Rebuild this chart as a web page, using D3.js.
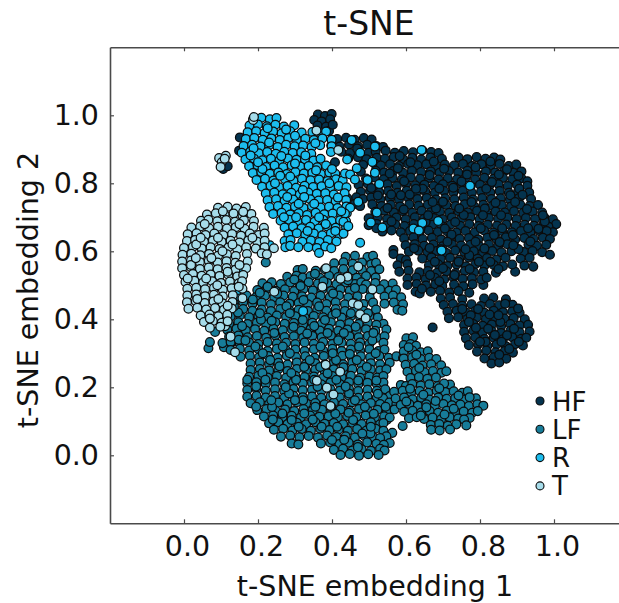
<!DOCTYPE html>
<html>
<head>
<meta charset="utf-8">
<script src="https://cdn.jsdelivr.net/npm/d3@7"></script>
<style>
  html, body { margin: 0; padding: 0; background: #fff; overflow: hidden; }
  text { font-family: "DejaVu Sans", sans-serif; fill: #111; }
</style>
</head>
<body>
<script>
const classNames = ["HF", "LF", "R", "T"];
const classColors = ["#04334e", "#177c99", "#1cbdee", "#a6dcea"];
const xTicks = [0, 0.2, 0.4, 0.6, 0.8, 1];
const yTicks = [0, 0.2, 0.4, 0.6, 0.8, 1];

// values, embedding coordinates
const hfPoints = [
[.362,1.002],[.381,.998],[.399,1.004],[.352,.986],[.372,.982],[.395,.988],[.361,.970],[.384,.966],[.392,.954],[.402,.972],
[.151,.935],[.149,.896],[.408,.862],[.672,.376],[.566,.604],[.566,.592],[.809,.501],[.895,.540],[.106,.842],[.118,.850],
[.414,.930],[.438,.934],[.461,.928],[.486,.933],[.507,.929],
[.398,.912],[.421,.908],[.446,.914],[.470,.909],[.495,.913],[.519,.910],[.538,.907],
[.425,.893],[.449,.889],[.474,.895],[.499,.890],[.518,.893],[.545,.896],[.570,.890],[.594,.895],[.619,.891],[.644,.897],[.668,.892],[.688,.889],
[.444,.873],[.470,.877],[.493,.871],[.521,.875],[.543,.872],[.567,.877],[.592,.871],[.617,.875],[.641,.870],[.666,.876],[.697,.872],[.742,.876],[.766,.871],[.791,.877],[.815,.872],[.838,.876],[.855,.870],
[.484,.854],[.516,.857],[.532,.852],[.557,.856],[.581,.851],[.606,.857],[.631,.853],[.655,.856],[.680,.851],[.705,.855],[.730,.852],[.754,.857],[.779,.851],[.804,.856],[.829,.852],[.853,.857],[.878,.851],[.898,.855],
[.478,.834],[.518,.837],[.541,.832],[.566,.836],[.592,.831],[.616,.837],[.641,.833],[.667,.835],[.691,.831],[.716,.836],[.741,.832],[.766,.837],[.790,.831],[.816,.835],[.841,.832],[.866,.836],[.890,.831],[.912,.835],
[.492,.814],[.515,.817],[.540,.812],[.564,.816],[.589,.811],[.613,.817],[.638,.813],[.663,.816],[.688,.811],[.713,.815],[.738,.812],[.762,.817],[.787,.811],[.812,.816],[.837,.813],[.862,.816],[.887,.811],[.912,.815],[.928,.806],
[.472,.795],[.497,.798],[.526,.793],[.550,.797],[.575,.792],[.600,.798],[.625,.794],[.650,.796],[.675,.792],[.700,.797],[.725,.793],[.750,.798],[.775,.792],[.800,.796],[.825,.793],[.850,.797],[.875,.792],[.900,.796],[.928,.793],
[.478,.775],[.503,.778],[.528,.773],[.552,.777],[.577,.772],[.602,.778],[.628,.774],[.652,.776],[.678,.772],[.703,.777],[.728,.773],[.753,.778],[.778,.772],[.803,.776],[.828,.773],[.853,.777],[.878,.772],[.903,.776],[.933,.773],
[.442,.756],[.466,.759],[.484,.754],[.506,.758],[.531,.753],[.556,.757],[.581,.752],[.606,.758],[.631,.754],[.656,.757],[.681,.752],[.706,.756],[.731,.753],[.756,.758],[.781,.752],[.806,.757],[.831,.754],[.856,.756],[.881,.752],[.906,.757],[.938,.754],
[.441,.736],[.462,.739],[.476,.733],[.509,.738],[.534,.733],[.559,.737],[.584,.732],[.609,.738],[.634,.734],[.659,.737],[.684,.732],[.709,.736],[.734,.733],[.759,.738],[.784,.732],[.809,.737],[.834,.734],[.859,.736],[.884,.732],[.909,.737],[.934,.733],[.957,.736],
[.517,.716],[.542,.719],[.567,.714],[.592,.718],[.617,.713],[.642,.719],[.667,.715],[.692,.717],[.717,.713],[.742,.718],[.767,.714],[.792,.719],[.817,.713],[.842,.717],[.867,.714],[.892,.718],[.917,.713],[.942,.717],[.968,.714],
[.499,.697],[.524,.700],[.549,.695],[.574,.699],[.599,.694],[.624,.700],[.649,.696],[.674,.698],[.699,.694],[.724,.699],[.749,.695],[.774,.700],[.799,.694],[.824,.698],[.849,.695],[.874,.699],[.899,.694],[.924,.698],[.949,.695],[.974,.699],[.997,.694],
[.499,.677],[.521,.680],[.546,.675],[.571,.679],[.596,.674],[.621,.680],[.646,.676],[.671,.678],[.696,.674],[.721,.679],[.746,.675],[.771,.680],[.796,.674],[.821,.678],[.846,.675],[.871,.679],[.896,.674],[.921,.678],[.946,.675],[.971,.679],[1.006,.680],[.985,.672],
[.536,.658],[.561,.661],[.586,.656],[.611,.660],[.636,.655],[.661,.661],[.686,.657],[.711,.659],[.736,.655],[.761,.660],[.786,.656],[.811,.661],[.836,.655],[.861,.659],[.886,.656],[.911,.660],[.936,.655],[.961,.659],[.997,.656],[.980,.660],
[.595,.638],[.620,.641],[.645,.636],[.670,.640],[.695,.635],[.720,.641],[.745,.637],[.770,.639],[.795,.635],[.820,.640],[.845,.636],[.870,.641],[.895,.635],[.920,.639],[.945,.636],[.970,.640],[.989,.636],
[.599,.618],[.624,.621],[.649,.616],[.674,.620],[.699,.615],[.724,.621],[.749,.617],[.774,.619],[.799,.615],[.824,.620],[.849,.616],[.874,.621],[.896,.612],[.931,.620],[.954,.616],[.979,.619],
[.608,.599],[.633,.602],[.658,.597],[.683,.601],[.708,.596],[.733,.602],[.758,.598],[.783,.600],[.808,.596],[.833,.601],[.858,.597],[.885,.600],[.918,.598],[.942,.601],[.968,.597],[.989,.590],
[.586,.579],[.600,.574],[.644,.579],[.669,.582],[.694,.577],[.719,.581],[.744,.576],[.769,.582],[.794,.578],[.819,.580],[.844,.576],[.869,.581],[.910,.578],[.934,.581],
[.577,.559],[.604,.562],[.662,.559],[.687,.562],[.712,.557],[.737,.561],[.762,.556],[.787,.562],[.812,.558],[.837,.560],[.862,.556],[.887,.561],[.920,.558],[.944,.555],
[.582,.540],[.607,.543],[.636,.538],[.659,.542],[.684,.537],[.709,.541],[.734,.536],[.759,.542],[.784,.538],[.809,.540],[.843,.537],
[.604,.520],[.628,.523],[.653,.518],[.678,.522],[.703,.517],[.728,.523],[.753,.519],[.778,.521],[.803,.517],[.818,.522],
[.604,.501],[.629,.504],[.654,.499],[.679,.503],[.698,.498],[.730,.502],[.755,.497],[.780,.503],
[.626,.481],[.637,.476],[.667,.481],[.692,.484],[.717,.479],[.742,.483],[.771,.478],
[.694,.461],[.719,.464],[.752,.459],[.811,.461],[.836,.464],[.870,.459],
[.702,.442],[.727,.445],[.752,.440],[.777,.444],[.802,.439],[.827,.445],[.852,.441],[.888,.443],[.868,.446],
[.712,.422],[.737,.425],[.762,.420],[.787,.424],[.812,.419],[.837,.425],[.862,.421],[.887,.423],[.907,.419],
[.716,.403],[.741,.406],[.766,.401],[.791,.405],[.816,.400],[.841,.406],[.866,.402],[.891,.404],[.921,.400],
[.757,.383],[.782,.386],[.807,.381],[.832,.385],[.857,.380],[.882,.386],[.907,.382],[.930,.384],
[.757,.363],[.782,.366],[.807,.361],[.832,.365],[.857,.360],[.882,.366],[.907,.362],[.934,.364],
[.762,.344],[.787,.347],[.812,.342],[.837,.346],[.862,.341],[.887,.347],[.912,.343],[.925,.346],
[.770,.324],[.795,.327],[.820,.322],[.845,.326],[.870,.321],[.895,.327],[.916,.323],
[.792,.305],[.817,.308],[.842,.303],[.867,.307],[.889,.302],
[.812,.285],[.837,.288],[.871,.284],[.831,.270],[.852,.273],
// overlay, breaks up the rows
[.612,.862],[.703,.843],[.556,.829],[.788,.847],[.873,.841],[.645,.784],[.728,.787],[.524,.764],[.817,.784],[.906,.784],[.594,.723],[.681,.726],[.756,.707],[.842,.743],[.927,.724],[.561,.688],[.639,.666],[.723,.649],[.802,.668],[.889,.648],[.958,.666],[.622,.609],[.695,.606],[.771,.588],[.853,.627],[.936,.629],[.678,.569],[.731,.530],[.797,.569],[.643,.490],[.752,.430],[.826,.414],[.903,.432],[.789,.375],[.873,.353],[.815,.334],[.879,.313],[.468,.902],[.583,.880],[.675,.864],[.828,.864],[.506,.786],[.904,.822],[.975,.688],[.610,.767],[.700,.746],[.777,.745],[.857,.706],[.550,.727],[.520,.668],
[.578,.844],[.664,.824],[.750,.805],[.832,.804],[.915,.766],[.586,.765],[.672,.745],[.744,.726],[.813,.726],[.882,.765],[.653,.686],[.705,.667],[.788,.628],[.838,.648],[.904,.606],[.664,.610],[.742,.569],[.828,.569],[.690,.512],[.775,.412],[.855,.392],[.840,.354],
[.595,.806],[.627,.784],[.690,.785],[.765,.826],[.851,.826],[.895,.745],[.560,.767],[.660,.706],[.733,.686],[.808,.706],[.860,.668],[.930,.668],[.712,.628],[.761,.606],[.812,.608],[.890,.618],[.700,.550],[.772,.548],[.850,.548],[.665,.530],[.795,.430],[.850,.412],[.770,.392],[.892,.372],[.822,.372],[.800,.334],[.858,.334],[.905,.334],[.852,.296],[.970,.706]
];

const lfPoints = [
[.221,.567],[.066,.315],[.084,.363],[.070,.333],[.108,.318],[.130,.333],[.591,.086],[.563,.066],[.548,.104],
[.437,.584],[.462,.587],[.496,.583],[.511,.587],
[.406,.565],[.431,.568],[.456,.563],[.481,.567],[.506,.562],[.519,.566],
[.307,.545],[.321,.548],[.356,.543],[.381,.547],[.406,.542],[.431,.548],[.456,.544],[.481,.546],[.506,.542],[.528,.547],
[.279,.525],[.304,.528],[.321,.523],[.342,.527],[.367,.522],[.392,.528],[.417,.524],[.442,.526],[.467,.522],[.492,.527],[.518,.523],
[.212,.506],[.237,.509],[.262,.504],[.287,.508],[.312,.503],[.337,.509],[.362,.505],[.387,.507],[.412,.503],[.437,.508],[.462,.504],[.479,.509],[.492,.502],[.517,.507],[.541,.503],[.564,.505],
[.198,.486],[.223,.489],[.248,.484],[.273,.488],[.298,.483],[.323,.489],[.348,.485],[.373,.487],[.398,.483],[.423,.488],[.448,.484],[.483,.489],[.505,.483],[.530,.488],[.555,.484],[.573,.487],
[.144,.467],[.169,.470],[.194,.465],[.219,.469],[.244,.464],[.269,.470],[.294,.466],[.319,.468],[.344,.464],[.369,.469],[.394,.465],[.419,.470],[.444,.464],[.469,.468],[.502,.465],[.542,.467],[.565,.470],[.587,.465],
[.135,.447],[.160,.450],[.185,.445],[.210,.449],[.235,.444],[.260,.450],[.285,.446],[.310,.448],[.335,.444],[.360,.449],[.385,.445],[.410,.450],[.435,.444],[.460,.448],[.485,.445],[.511,.449],[.542,.446],[.567,.449],[.592,.444],
[.135,.427],[.160,.430],[.185,.425],[.210,.429],[.235,.424],[.260,.430],[.285,.426],[.310,.428],[.335,.424],[.360,.429],[.385,.425],[.410,.430],[.435,.424],[.460,.428],[.485,.425],[.519,.429],[.577,.428],[.590,.425],
[.126,.408],[.151,.411],[.176,.406],[.201,.410],[.226,.405],[.251,.411],[.276,.407],[.301,.409],[.326,.405],[.351,.410],[.376,.406],[.401,.411],[.426,.405],[.451,.409],[.476,.406],[.501,.410],[.524,.405],
[.122,.388],[.147,.391],[.172,.386],[.197,.390],[.222,.385],[.247,.391],[.272,.387],[.297,.389],[.322,.385],[.347,.390],[.372,.386],[.397,.391],[.422,.385],[.447,.389],[.472,.386],[.497,.390],[.539,.387],[.520,.384],
[.117,.369],[.142,.372],[.167,.367],[.192,.371],[.217,.366],[.242,.372],[.267,.368],[.292,.370],[.317,.366],[.342,.371],[.367,.367],[.392,.372],[.417,.366],[.442,.370],[.467,.367],[.492,.371],[.517,.366],[.547,.370],
[.122,.349],[.147,.352],[.172,.347],[.197,.351],[.222,.346],[.247,.352],[.272,.348],[.297,.350],[.322,.346],[.347,.351],[.372,.347],[.397,.352],[.422,.346],[.447,.350],[.472,.347],[.497,.351],[.522,.346],[.542,.350],
[.104,.330],[.126,.333],[.151,.328],[.176,.332],[.201,.327],[.226,.333],[.251,.329],[.276,.331],[.301,.327],[.326,.332],[.351,.328],[.376,.333],[.401,.327],[.426,.331],[.451,.328],[.476,.332],[.501,.327],[.539,.331],
[.126,.310],[.151,.313],[.176,.308],[.201,.312],[.226,.307],[.251,.313],[.276,.309],[.301,.311],[.326,.307],[.351,.312],[.376,.308],[.401,.313],[.426,.307],[.451,.311],[.476,.308],[.501,.312],[.526,.307],[.542,.311],
[.153,.290],[.178,.293],[.203,.288],[.228,.292],[.253,.287],[.278,.293],[.303,.289],[.328,.291],[.353,.287],[.378,.292],[.403,.288],[.428,.293],[.453,.287],[.478,.291],[.503,.288],[.528,.292],[.553,.287],[.574,.291],[.592,.287],
[.180,.270],[.205,.273],[.230,.268],[.255,.272],[.280,.267],[.305,.273],[.330,.269],[.355,.271],[.380,.267],[.405,.272],[.430,.268],[.455,.273],[.480,.267],[.505,.271],[.530,.268],[.556,.272],
[.180,.251],[.205,.254],[.230,.249],[.255,.253],[.280,.248],[.305,.254],[.330,.250],[.355,.252],[.380,.248],[.405,.253],[.430,.249],[.455,.254],[.480,.248],[.505,.252],[.530,.249],[.547,.253],
[.176,.231],[.201,.234],[.226,.229],[.251,.233],[.276,.228],[.301,.234],[.326,.230],[.351,.232],[.376,.228],[.401,.233],[.426,.229],[.451,.234],[.476,.228],[.501,.232],[.522,.229],[.539,.233],
[.171,.212],[.196,.215],[.221,.210],[.246,.214],[.271,.209],[.296,.215],[.321,.211],[.346,.213],[.371,.209],[.396,.214],[.421,.210],[.446,.215],[.471,.209],[.496,.213],[.521,.210],[.539,.214],
[.171,.192],[.196,.195],[.221,.190],[.246,.194],[.271,.189],[.296,.195],[.321,.191],[.346,.193],[.371,.189],[.396,.194],[.421,.190],[.446,.195],[.471,.189],[.496,.193],[.521,.190],[.544,.194],
[.171,.172],[.196,.175],[.221,.170],[.246,.174],[.271,.169],[.296,.175],[.321,.171],[.346,.173],[.371,.169],[.396,.174],[.421,.170],[.446,.175],[.471,.169],[.496,.173],[.521,.170],[.556,.174],[.538,.168],
[.180,.153],[.205,.156],[.230,.151],[.255,.155],[.280,.150],[.305,.156],[.330,.152],[.355,.154],[.380,.150],[.405,.155],[.430,.151],[.455,.156],[.480,.150],[.505,.154],[.530,.151],[.555,.155],[.574,.151],
[.198,.133],[.223,.136],[.248,.131],[.273,.135],[.298,.130],[.323,.136],[.348,.132],[.373,.134],[.398,.130],[.423,.135],[.448,.131],[.473,.136],[.498,.130],[.523,.134],[.548,.131],[.569,.135],
[.216,.114],[.241,.117],[.266,.112],[.291,.116],[.316,.111],[.341,.117],[.366,.113],[.391,.115],[.416,.111],[.441,.116],[.466,.112],[.491,.117],[.516,.111],[.541,.115],[.556,.111],
[.230,.094],[.255,.097],[.280,.092],[.305,.096],[.330,.091],[.355,.097],[.380,.093],[.405,.095],[.430,.091],[.455,.096],[.480,.092],[.505,.097],[.530,.091],[.539,.095],
[.243,.075],[.268,.078],[.293,.073],[.318,.077],[.343,.072],[.368,.078],[.393,.074],[.418,.076],[.443,.072],[.468,.077],[.493,.073],[.518,.078],[.539,.072],
[.262,.055],[.287,.058],[.312,.053],[.337,.057],[.362,.052],[.387,.058],[.412,.054],[.437,.056],[.462,.052],[.487,.057],[.512,.053],[.547,.056],[.530,.051],
[.291,.035],[.309,.032],[.370,.035],[.395,.038],[.420,.033],[.445,.037],[.470,.032],[.495,.038],[.520,.034],[.556,.036],[.540,.031],
[.405,.016],[.430,.019],[.455,.014],[.480,.018],[.505,.013],[.530,.019],[.542,.014],
[.423,.001],[.448,.004],[.473,-.001],[.498,.003],[.526,.001],
[.601,.344],[.619,.347],[.594,.324],[.612,.327],[.627,.322],
[.594,.305],[.617,.308],[.640,.303],[.659,.306],
[.594,.285],[.617,.288],[.640,.283],[.663,.287],[.682,.283],
[.599,.266],[.622,.269],[.645,.264],[.668,.268],[.695,.265],
[.604,.246],[.627,.249],[.650,.244],[.673,.248],[.696,.243],[.709,.247],
[.612,.227],[.635,.230],[.658,.225],[.681,.229],
[.586,.207],[.600,.204],[.617,.210],[.640,.205],[.663,.209],[.686,.204],[.719,.208],[.703,.211],
[.568,.187],[.591,.190],[.614,.185],[.637,.189],[.660,.184],[.683,.190],[.706,.186],[.729,.188],[.752,.184],[.767,.188],
[.572,.167],[.595,.170],[.618,.165],[.641,.169],[.664,.164],[.687,.170],[.710,.166],[.733,.168],[.756,.164],[.789,.168],[.772,.171],
[.586,.148],[.609,.151],[.632,.146],[.655,.150],[.678,.145],[.701,.151],[.724,.147],[.747,.149],[.770,.145],[.793,.150],[.809,.146],
[.595,.128],[.618,.131],[.641,.126],[.664,.130],[.687,.125],[.710,.131],[.733,.127],[.756,.129],[.779,.125],[.794,.130],
[.608,.109],[.629,.112],[.649,.107],[.672,.111],[.695,.106],[.718,.112],[.741,.108],[.772,.110],[.757,.105],
[.667,.089],[.690,.092],[.713,.087],[.736,.091],[.763,.088],[.668,.075],[.691,.073],[.719,.076],
// overlay, breaks up the rows
[.226,.496],[.315,.498],[.403,.476],[.186,.458],[.277,.438],[.365,.438],[.451,.418],[.208,.399],[.296,.378],[.381,.398],[.464,.378],[.157,.380],[.244,.360],[.333,.358],[.417,.338],[.509,.338],[.193,.320],[.286,.300],[.369,.320],[.448,.298],[.233,.280],[.325,.260],[.411,.280],[.494,.260],[.212,.242],[.303,.222],[.388,.241],[.471,.220],[.195,.202],[.284,.182],[.361,.202],[.446,.182],[.524,.181],[.238,.142],[.322,.162],[.409,.122],[.489,.143],[.291,.104],[.372,.084],[.457,.104],[.433,.046],[.504,.064],[.636,.257],[.611,.196],[.690,.197],[.655,.141],[.742,.176],[.704,.120],
[.354,.534],[.443,.515],[.252,.475],[.323,.457],[.411,.418],[.146,.420],[.237,.396],[.321,.398],[.497,.418],[.388,.360],[.473,.320],[.267,.320],[.148,.340],[.340,.280],[.431,.259],[.258,.262],[.171,.222],[.352,.222],[.275,.200],[.437,.202],[.236,.162],[.325,.123],[.398,.143],[.513,.122],[.266,.123],[.348,.105],[.414,.084],[.482,.064],[.601,.158],[.647,.178],[.729,.137],[.628,.296],
[.298,.517],[.377,.512],[.462,.492],[.205,.478],[.135,.438],[.205,.418],[.286,.418],[.352,.380],[.432,.360],[.512,.360],[.166,.338],[.213,.300],[.402,.300],[.518,.300],[.467,.280],[.368,.260],[.290,.242],[.220,.222],[.412,.222],[.520,.220],[.300,.162],[.462,.162],[.195,.143],[.545,.143],[.355,.143],[.240,.105],[.445,.125],[.310,.084],[.505,.084],[.400,.045],[.470,.024],[.607,.318],[.680,.160],[.640,.117]
];

const rPoints = [
[.187,.990],[.209,.993],[.232,.988],[.250,.992],
[.177,.970],[.200,.973],[.224,.968],[.247,.972],[.270,.967],[.298,.971],
[.172,.950],[.195,.953],[.218,.948],[.241,.952],[.264,.947],[.287,.953],[.318,.949],[.347,.951],[.370,.947],[.384,.952],
[.167,.930],[.190,.933],[.213,.928],[.236,.932],[.259,.927],[.282,.933],[.305,.929],[.328,.931],[.351,.927],[.374,.932],[.399,.928],
[.161,.910],[.184,.913],[.207,.908],[.230,.912],[.253,.907],[.276,.913],[.299,.909],[.322,.911],[.345,.907],[.368,.912],[.399,.909],
[.156,.890],[.179,.893],[.202,.888],[.225,.892],[.248,.887],[.271,.893],[.294,.889],[.317,.891],[.344,.887],[.397,.892],
[.166,.870],[.189,.873],[.212,.868],[.235,.872],[.258,.867],[.281,.873],[.304,.869],[.327,.871],[.350,.867],[.369,.872],
[.176,.850],[.199,.853],[.222,.848],[.245,.852],[.268,.847],[.291,.853],[.314,.849],[.337,.851],[.360,.847],[.384,.852],
[.186,.830],[.209,.833],[.232,.828],[.255,.832],[.278,.827],[.301,.833],[.324,.829],[.347,.831],[.370,.827],[.393,.832],[.409,.828],
[.196,.810],[.219,.813],[.242,.808],[.273,.812],[.296,.807],[.319,.813],[.342,.809],[.365,.811],[.388,.807],[.411,.812],[.429,.808],
[.211,.790],[.234,.793],[.257,.788],[.280,.792],[.303,.787],[.326,.793],[.349,.789],[.372,.791],[.395,.787],[.418,.792],[.439,.788],
[.221,.770],[.244,.773],[.267,.768],[.290,.772],[.313,.767],[.336,.773],[.359,.769],[.382,.771],[.405,.767],[.434,.771],
[.226,.750],[.249,.753],[.272,.748],[.295,.752],[.318,.747],[.341,.753],[.364,.749],[.387,.751],[.410,.747],[.438,.751],
[.231,.730],[.254,.733],[.277,.728],[.300,.732],[.323,.727],[.346,.733],[.369,.729],[.392,.731],[.415,.727],[.439,.732],
[.241,.710],[.264,.713],[.287,.708],[.310,.712],[.333,.707],[.356,.713],[.379,.709],[.402,.711],[.425,.707],[.440,.712],
[.261,.690],[.284,.693],[.307,.688],[.330,.692],[.353,.687],[.376,.693],[.399,.689],[.422,.691],[.438,.688],
[.272,.670],[.295,.673],[.318,.668],[.341,.672],[.364,.667],[.387,.673],[.410,.669],[.438,.671],
[.282,.650],[.305,.653],[.328,.648],[.351,.652],[.374,.647],[.397,.653],[.420,.649],[.431,.652],
[.272,.630],[.288,.633],[.320,.628],[.343,.632],[.366,.627],[.389,.633],[.412,.629],
[.274,.612],[.287,.616],[.309,.612],[.336,.612],[.359,.610],[.382,.614],[.398,.609],[.365,.595],
[.453,.927],[.516,.908],[.476,.890],[.441,.870],[.509,.863],[.467,.844],[.516,.831],[.435,.829],[.449,.826],[.462,.811],[.496,.810],[.528,.798],
[.471,.746],[.449,.728],[.521,.714],[.435,.711],[.431,.687],[.444,.674],[.505,.685],[.536,.670],
[.642,.898],[.773,.793],[.644,.683],[.687,.689],[.620,.667],[.635,.661],[.696,.602],[.476,.625],
[.103,.627],[.159,.539],[.232,.618],[.146,.486],[.322,.424],
// overlay, breaks up the rows
[.226,.962],[.300,.940],[.188,.903],[.263,.880],[.328,.882],[.212,.842],[.287,.820],[.357,.838],[.246,.800],[.321,.780],[.393,.800],[.279,.760],[.352,.740],[.416,.758],[.303,.700],[.383,.680],[.334,.660],[.409,.660],[.276,.958],[.355,.918],[.230,.920],[.400,.842],[.260,.822],[.310,.740],[.425,.718],[.180,.882],[.300,.858],[.200,.862],[.325,.760],[.365,.700],[.270,.700]
];

const tPoints = [
[.095,.874],[.113,.881],[.102,.862],[.099,.848],[.110,.872],[.187,.986],[.189,.995],[.358,.955],[.417,.898],
[.384,.550],[.471,.555],[.442,.525],[.423,.519],[.374,.496],[.244,.481],[.509,.488],[.456,.447],[.471,.442],[.476,.415],[.491,.403],[.383,.266],[.422,.246],[.359,.219],[.386,.199],[.404,.179],[.396,.145],[.158,.462],[.138,.303],[.126,.349],[.111,.380],
[.092,.728],[.118,.731],[.142,.726],[.167,.730],
[.062,.708],[.086,.712],[.110,.707],[.134,.711],[.158,.706],[.182,.710],
[.046,.690],[.066,.693],[.090,.688],[.114,.692],[.138,.687],[.162,.691],[.189,.689],
[.020,.670],[.044,.673],[.068,.668],[.092,.672],[.116,.667],[.140,.671],[.164,.666],[.188,.672],[.216,.669],
[.010,.650],[.034,.653],[.058,.648],[.082,.652],[.106,.647],[.130,.651],[.154,.646],[.178,.652],[.202,.648],[.218,.652],
[.008,.630],[.030,.633],[.054,.628],[.078,.632],[.102,.627],[.126,.631],[.150,.626],[.174,.632],[.198,.628],[.218,.631],
[.000,.610],[.024,.613],[.048,.608],[.072,.612],[.096,.607],[.120,.611],[.144,.606],[.168,.612],[.194,.608],[.218,.612],[.243,.609],
[-.004,.590],[.020,.593],[.044,.588],[.068,.592],[.092,.587],[.116,.591],[.140,.586],[.170,.592],[.210,.594],[.224,.591],
[-.005,.570],[.019,.573],[.043,.568],[.067,.572],[.091,.567],[.115,.571],[.139,.566],[.172,.570],
[-.005,.550],[.019,.553],[.043,.548],[.067,.552],[.091,.547],[.115,.551],[.139,.546],[.168,.550],
[.000,.530],[.024,.533],[.048,.528],[.072,.532],[.096,.527],[.120,.531],[.144,.526],[.160,.530],
[.004,.510],[.028,.513],[.052,.508],[.076,.512],[.100,.507],[.124,.511],[.148,.506],[.157,.512],
[.009,.490],[.033,.493],[.057,.488],[.081,.492],[.105,.487],[.129,.491],[.158,.490],
[.009,.470],[.033,.473],[.057,.468],[.081,.472],[.105,.467],[.132,.471],
[.008,.450],[.032,.453],[.056,.448],[.080,.452],[.104,.447],[.131,.451],
[.012,.431],[.036,.434],[.060,.429],[.084,.433],[.108,.428],[.129,.432],
[.045,.411],[.069,.414],[.093,.409],[.117,.413],
[.054,.392],[.078,.395],[.102,.390],[.118,.394],[.070,.375],[.098,.378],
// overlay, breaks up the rows
[.105,.718],[.056,.680],[.150,.680],[.092,.640],[.033,.620],[.131,.620],[.074,.580],[.019,.560],[.118,.540],[.060,.520],[.148,.496],[.036,.460],[.093,.460],[.070,.402],[.185,.640],[.160,.716],[.045,.640],[.104,.600],[.150,.560],[.010,.520],[.090,.500],[.118,.440],[.032,.580]
];

const seriesPoints = [hfPoints, lfPoints, rPoints, tPoints];

const width = 619;
const height = 603;

const x = d3.scaleLinear().domain([-0.2, 1.2]).range([110, 628]);
const y = d3.scaleLinear().domain([-0.2, 1.2]).range([523.3, 47.3]);

const svg = d3
  .select("body")
  .append("svg")
  .attr("width", width)
  .attr("height", height)
  .style("display", "block");

// axes first, points go over them
const fmt = d3.format(".1f");
const spineColor = "#4a4a4a";

const bottomAxis = svg
  .append("g")
  .attr("transform", `translate(0, ${y(-0.2)})`)
  .call(d3.axisBottom(x).tickValues(xTicks).tickSizeInner(-4).tickSizeOuter(0).tickPadding(12).tickFormat(fmt));

const topAxis = svg
  .append("g")
  .attr("transform", `translate(0, ${y(1.2)})`)
  .call(d3.axisTop(x).tickValues(xTicks).tickSizeInner(-4).tickSizeOuter(0).tickFormat(""));

const leftAxis = svg
  .append("g")
  .attr("transform", `translate(${x(-0.2)}, 0)`)
  .call(d3.axisLeft(y).tickValues(yTicks).tickSizeInner(-4).tickSizeOuter(0).tickPadding(11).tickFormat(fmt));

[bottomAxis, topAxis, leftAxis].forEach((a) => {
  a.selectAll("path").attr("stroke", spineColor).attr("stroke-width", 1.6);
  a.selectAll("line").attr("stroke", spineColor).attr("stroke-width", 1.2);
  a.selectAll("text").style("font-size", "28.5px").style("font-family", '"DejaVu Sans"').attr("fill", "#111");
});
bottomAxis.selectAll("text").attr("dx", 3);

// points
seriesPoints.forEach((points, i) => {
  svg
    .append("g")
    .selectAll("circle")
    .data(points)
    .join("circle")
    .attr("cx", (d) => x(d[0]))
    .attr("cy", (d) => y(d[1]))
    .attr("r", 4.4)
    .attr("fill", classColors[i])
    .attr("stroke", "#0b0b0b")
    .attr("stroke-width", 1.25);
});

// legend
const legend = svg
  .append("g")
  .selectAll("g")
  .data(classNames)
  .join("g")
  .attr("transform", (d, i) => `translate(540, ${401 + i * 28.3})`);

legend
  .append("circle")
  .attr("r", 4)
  .attr("fill", (d, i) => classColors[i])
  .attr("stroke", "#0b0b0b")
  .attr("stroke-width", 1.1);

legend
  .append("text")
  .attr("x", 12)
  .attr("y", 9.5)
  .style("font-size", "26px")
  .text((d) => d);

svg
  .append("text")
  .attr("x", 369)
  .attr("y", 35)
  .attr("text-anchor", "middle")
  .style("font-size", "33px")
  .text("t-SNE");

svg
  .append("text")
  .attr("x", 375)
  .attr("y", 596)
  .attr("text-anchor", "middle")
  .style("font-size", "28.5px")
  .text("t-SNE embedding 1");

svg
  .append("text")
  .attr("transform", "translate(38, 290) rotate(-90)")
  .attr("text-anchor", "middle")
  .style("font-size", "28.5px")
  .text("t-SNE embedding 2");
</script>
</body>
</html>
